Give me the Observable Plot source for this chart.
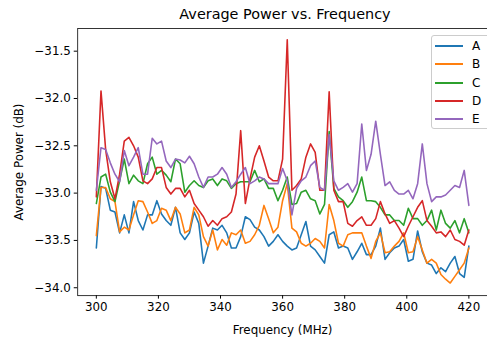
<!DOCTYPE html>
<html><head><meta charset="utf-8">
<script src="https://cdn.jsdelivr.net/npm/d3@7"></script>
<script src="https://cdn.jsdelivr.net/npm/@observablehq/plot@0.6"></script>
<style>
body{margin:0;width:487px;height:339px;overflow:hidden;background:#fff;font-family:"DejaVu Sans",sans-serif;position:relative}
#title{position:absolute;top:6px;left:285px;transform:translateX(-50%);font-size:14.4px;line-height:16px;white-space:nowrap;color:#000}
#chart{position:absolute;top:20px;left:0}
#legend{position:absolute;left:431px;top:35px;width:70px;height:94px;border:1px solid #ccc;border-radius:3px;background:rgba(255,255,255,0.8);box-sizing:border-box}
.item{position:absolute;left:0;width:70px;height:16px;font-size:12px;color:#000}
.item .sw{position:absolute;left:3px;top:7px;width:28px;height:2px}
.item .lb{position:absolute;left:40px;top:0;line-height:16px}
</style>
</head><body>
<div id="title">Average Power vs. Frequency</div>
<div id="chart"></div>
<div id="legend"></div>
<script>
const names = ["A","B","C","D","E"];
const colors = ["#1f77b4","#ff7f0e","#2ca02c","#d62728","#9467bd"];
const freqs = d3.range(300, 420.5, 1.5);
const xTicks = [300,320,340,360,380,400,420];
const yTicks = [-34.0,-33.5,-33.0,-32.5,-32.0,-31.5];

const seriesA = [-33.58,-32.93,-32.95,-33.18,-33.20,-33.42,-33.23,-33.42,-33.09,-33.29,-33.39,-33.23,-33.23,-33.08,-33.22,-33.29,-33.34,
 -33.15,-33.42,-33.49,-33.42,-33.20,-33.32,-33.74,-33.56,-33.37,-33.39,-33.34,-33.42,-33.58,-33.58,-33.46,-33.25,
 -33.28,-33.36,-33.39,-33.46,-33.56,-33.51,-33.44,-33.51,-33.56,-33.60,-33.58,-33.44,-33.30,-33.56,-33.60,-33.67,-33.74,
 -33.44,-33.41,-33.58,-33.56,-33.58,-33.70,-33.62,-33.53,-33.65,-33.65,-33.56,-33.37,-33.70,-33.63,-33.58,-33.56,-33.49,
 -33.72,-33.70,-33.40,-33.62,-33.74,-33.76,-33.85,-33.79,-33.83,-33.74,-33.67,-33.85,-33.89,-33.56];
const seriesB = [-33.45,-32.94,-32.94,-33.06,-33.09,-33.41,-33.36,-33.39,-33.23,-33.08,-33.09,-33.20,-33.32,-33.29,-33.16,-33.18,-33.29,
 -33.15,-33.22,-33.42,-33.39,-33.15,-33.23,-33.46,-33.56,-33.39,-33.60,-33.49,-33.55,-33.42,-33.44,-33.39,-33.53,
 -33.51,-33.44,-33.34,-33.13,-33.27,-33.42,-33.36,-33.08,-32.90,-33.37,-33.41,-33.53,-33.56,-33.53,-33.48,-33.51,-33.58,
 -33.12,-33.29,-33.53,-33.56,-33.44,-33.42,-33.42,-33.42,-33.56,-33.69,-33.51,-33.42,-33.63,-33.62,-33.56,-33.51,-33.42,
 -33.63,-33.62,-33.46,-33.60,-33.74,-33.70,-33.74,-33.86,-33.91,-33.95,-33.88,-33.81,-33.74,-33.58];
const seriesC = [-33.11,-32.83,-32.80,-32.99,-33.09,-32.87,-32.64,-32.90,-32.81,-32.87,-32.90,-32.69,-32.62,-32.80,-32.76,-32.81,-32.88,
 -32.64,-32.69,-32.99,-32.92,-32.87,-32.92,-32.94,-32.87,-32.85,-32.92,-32.85,-32.87,-32.95,-32.90,-32.88,-32.88,
 -32.88,-32.76,-32.88,-32.85,-32.95,-32.95,-33.08,-32.97,-32.83,-33.12,-33.11,-32.99,-32.97,-33.06,-33.08,-33.22,-33.12,
 -32.35,-32.95,-33.04,-33.08,-33.15,-33.09,-32.99,-32.83,-33.08,-33.08,-33.09,-33.15,-33.23,-33.23,-33.29,-33.29,-33.34,
 -33.16,-33.27,-33.27,-33.34,-33.29,-33.18,-33.39,-33.18,-33.32,-33.37,-33.29,-33.42,-33.27,-33.42];
const seriesD = [-33.04,-31.92,-32.54,-32.88,-33.06,-32.80,-32.45,-32.41,-32.50,-32.62,-32.87,-32.90,-32.85,-32.73,-32.73,-32.94,-33.01,
 -32.95,-32.95,-33.04,-32.97,-33.11,-33.18,-33.25,-33.35,-33.29,-33.34,-33.27,-33.25,-33.20,-33.01,-32.34,-33.11,
 -32.85,-32.62,-32.50,-32.66,-32.83,-32.87,-32.87,-32.64,-31.38,-32.97,-32.92,-32.85,-32.62,-32.48,-32.57,-32.97,-32.97,
 -31.93,-32.97,-33.09,-33.09,-33.32,-33.35,-33.29,-33.25,-33.34,-33.34,-33.27,-33.09,-33.22,-33.32,-33.29,-33.37,-33.46,
 -33.35,-33.25,-33.15,-33.08,-33.29,-33.35,-33.42,-33.41,-33.46,-33.39,-33.49,-33.51,-33.55,-33.39];
const seriesE = [-32.97,-32.52,-32.54,-32.68,-32.80,-32.88,-32.55,-32.71,-32.62,-32.52,-32.80,-32.80,-32.42,-32.48,-32.45,-32.66,-32.73,
 -32.64,-32.65,-32.68,-32.61,-32.69,-32.83,-32.94,-32.83,-32.83,-32.80,-32.73,-32.80,-32.94,-32.88,-32.80,-32.73,
 -32.90,-32.87,-32.83,-32.85,-32.90,-32.90,-32.90,-32.74,-32.87,-33.23,-32.95,-32.87,-32.83,-32.71,-32.66,-32.94,-32.97,
 -32.38,-32.87,-32.97,-32.94,-32.90,-32.99,-32.90,-32.27,-32.76,-32.59,-32.24,-32.59,-32.92,-32.88,-32.97,-33.01,-33.01,
 -32.97,-33.06,-32.90,-32.48,-32.90,-33.09,-33.04,-33.04,-33.02,-32.97,-32.92,-32.94,-32.76,-33.13];

const allSeries = [seriesA, seriesB, seriesC, seriesD, seriesE];
const data = names.flatMap((n, k) => allSeries[k].map((v, i) => ({f: freqs[i], v, s: n})));

const chart = Plot.plot({
  width: 492, height: 319,
  marginLeft: 78, marginRight: 0, marginTop: 8, marginBottom: 41,
  style: {fontFamily: "DejaVu Sans, sans-serif", fontSize: "12px", color: "#000", background: "transparent", overflow: "visible"},
  x: {domain: [294, 426]},
  y: {domain: [-34.0837, -31.2594]},
  color: {domain: names, range: colors},
  marks: [
    Plot.line(data, {x: "f", y: "v", stroke: "s", strokeWidth: 1.6}),
    Plot.frame({stroke: "#000", strokeWidth: 0.8}),
    Plot.axisX({ticks: xTicks, tickSize: 3.5, tickPadding: 3.5, tickFormat: d3.format("d"), label: "Frequency (MHz)", labelAnchor: "center", labelArrow: "none", labelOffset: 39}),
    Plot.axisY({ticks: yTicks, tickSize: 3.5, tickPadding: 3.5, tickFormat: d3.format(".1f"), label: "Average Power (dB)", labelAnchor: "center", labelArrow: "none", labelOffset: 64})
  ]
});
document.getElementById("chart").appendChild(chart);

const lg = document.getElementById("legend");
names.forEach((n, k) => {
  const it = document.createElement("div");
  it.className = "item";
  it.style.top = (2 + k * 18.3) + "px";
  it.innerHTML = `<span class="sw" style="background:${colors[k]}"></span><span class="lb">${n}</span>`;
  lg.appendChild(it);
});
</script>
</body></html>
